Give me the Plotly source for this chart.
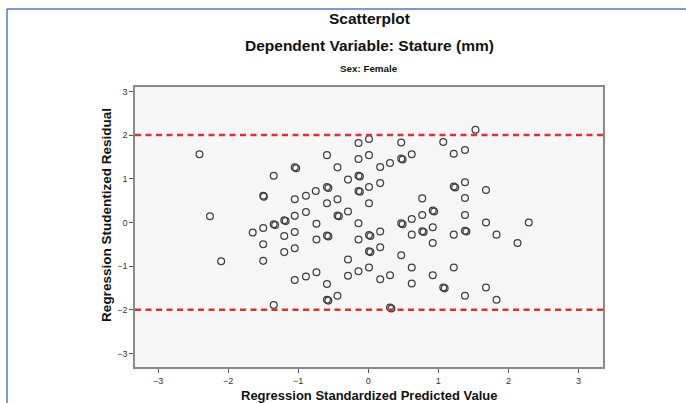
import plotly.graph_objects as go

# Regression standardized predicted value (x) and studentized residual (y)
pred = [-2.41, -1.35, -1.50, -1.49, -2.26, -1.50, -1.65, -1.35, -1.33, -1.50, -2.10, -1.50, -1.35,
        0.01, -0.14, 0.47, -0.59, 0.01, -0.14, 0.62, 0.47, 0.49, 0.31, 0.17, -1.05, -1.03, -0.44,
        -0.14, -0.12, -0.29, 0.17, 0.01, -0.59, -0.57, -0.14, -0.12, -0.75, -0.89, -1.05, -0.44,
        1.53, 1.07, 1.22, 1.38, 1.38, 1.22, 1.24, 1.68, 0.77, 1.38,
        -1.20, -1.18, -1.05, -0.89, -0.59, 0.01, -0.29, -0.44, -0.42, -0.74, -1.20, -1.05,
        -0.59, -0.57, -0.74, -1.20, -1.05, -0.14, -0.14, 0.01, 0.03, 0.17, 0.01, 0.03, 0.17,
        0.47, 0.49, 0.62, 0.62, 0.47, 0.62, -0.29, -0.29, -0.14, 0.01, 0.17, 0.31, 0.62,
        -1.05, -0.89, -0.74, -0.59, -0.59, -0.57, -0.44, 0.31, 0.33,
        0.77, 0.92, 0.94, 0.77, 0.79, 0.92, 0.92, 1.22, 1.38, 1.38, 1.40, 1.68, 1.83, 2.13, 2.29,
        0.92, 1.22, 1.07, 1.09, 1.38, 1.68, 1.83]
resid = [1.56, 1.07, 0.61, 0.59, 0.14, -0.13, -0.23, -0.04, -0.06, -0.50, -0.89, -0.88, -1.89,
         1.91, 1.82, 1.83, 1.54, 1.54, 1.45, 1.56, 1.46, 1.44, 1.36, 1.27, 1.26, 1.24, 1.26,
         1.07, 1.05, 0.98, 0.90, 0.81, 0.81, 0.79, 0.72, 0.70, 0.72, 0.61, 0.53, 0.53,
         2.12, 1.84, 1.57, 1.66, 0.92, 0.82, 0.80, 0.74, 0.55, 0.56,
         0.05, 0.03, 0.15, 0.24, 0.44, 0.44, 0.25, 0.16, 0.14, -0.03, -0.31, -0.22,
         -0.30, -0.32, -0.39, -0.68, -0.59, -0.02, -0.39, -0.29, -0.31, -0.21, -0.66, -0.68, -0.57,
         -0.02, -0.04, 0.08, -0.28, -0.75, -1.03, -0.85, -1.22, -1.12, -1.03, -1.30, -1.21, -1.40,
         -1.32, -1.24, -1.14, -1.41, -1.77, -1.79, -1.68, -1.95, -1.97,
         0.17, 0.27, 0.25, -0.20, -0.22, -0.11, -0.47, -0.28, 0.17, -0.19, -0.21, 0.00, -0.28, -0.47, 0.00,
         -1.21, -1.03, -1.49, -1.51, -1.68, -1.49, -1.77]

ref_lines = [2, -2]
x_ticks = [-3, -2, -1, 0, 1, 2, 3]
y_ticks = [-3, -2, -1, 0, 1, 2, 3]

title_main = "Scatterplot"
title_sub = "Dependent Variable: Stature (mm)"
title_panel = "Sex: Female"
x_title = "Regression Standardized Predicted Value"
y_title = "Regression Studentized Residual"

FONT = "Liberation Sans, Arial, sans-serif"

fig = go.Figure()
fig.add_trace(go.Scatter(
    x=pred, y=resid, mode="markers",
    marker=dict(symbol="circle-open", size=6.8, color="#404040", line=dict(width=1.25, color="#404040")),
    showlegend=False, hoverinfo="x+y"))

for v in ref_lines:
    fig.add_shape(type="line", xref="paper", x0=0, x1=1, yref="y", y0=v, y1=v,
                  line=dict(color="#e0302e", width=2.4, dash="6px,4.5px"))

# outer blue frame (left and top edges)
fig.add_shape(type="line", xref="paper", yref="paper", x0=-0.2735, x1=1.2, y0=1.2786, y1=1.2786,
              line=dict(color="#5577c4", width=1.5))
fig.add_shape(type="line", xref="paper", yref="paper", x0=-0.2735, x1=-0.2735, y0=-0.2, y1=1.2786,
              line=dict(color="#5577c4", width=1.5))

ann = [
    dict(text=title_main, y=1.243, size=15.5),
    dict(text=title_sub, y=1.148, size=15.5),
    dict(text=title_panel, y=1.066, size=9.8),
]
for a in ann:
    fig.add_annotation(text="<b>%s</b>" % a["text"], xref="paper", yref="paper", x=0.5, y=a["y"],
                       showarrow=False, font=dict(family=FONT, size=a["size"], color="#111"),
                       xanchor="center", yanchor="middle")
fig.add_annotation(text="<b>%s</b>" % x_title, xref="paper", yref="paper", x=0.5, y=-0.1,
                   showarrow=False, font=dict(family=FONT, size=13, color="#111"),
                   xanchor="center", yanchor="middle")
fig.add_annotation(text="<b>%s</b>" % y_title, xref="paper", yref="paper", x=-0.06, y=0.543,
                   showarrow=False, textangle=-90, font=dict(family=FONT, size=13.5, color="#111"),
                   xanchor="center", yanchor="middle")

axis_common = dict(showgrid=False, zeroline=False, showline=True, linecolor="#8a8a8a", linewidth=1.5,
                   mirror=True, ticks="outside", ticklen=4, tickcolor="#555", tickwidth=1,
                   tickfont=dict(family=FONT, size=9, color="#333"))
fig.update_xaxes(range=[-3.33, 3.35], tickvals=x_ticks, **axis_common)
fig.update_yaxes(range=[-3.31, 3.10], tickvals=y_ticks, **axis_common)

fig.update_layout(width=686, height=403, margin=dict(l=135, r=83, t=87, b=36),
                  paper_bgcolor="white", plot_bgcolor="#f6f6f6",
                  font=dict(family=FONT))
fig.write_html("out.html", config={"displayModeBar": False},
               post_script="document.body.style.margin='0px';document.body.style.overflow='hidden';")
